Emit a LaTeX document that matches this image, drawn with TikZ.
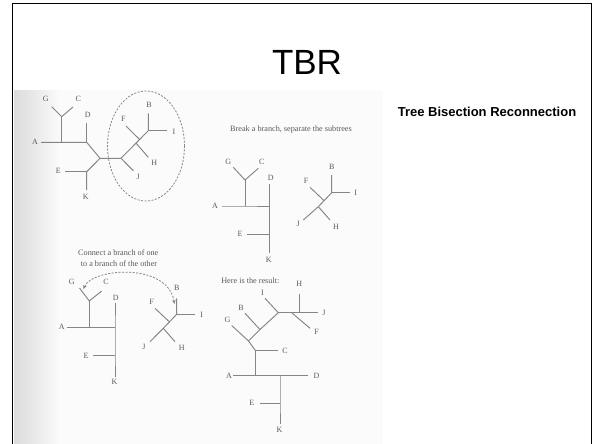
\documentclass[tikz,border=0pt]{standalone}
\usepackage{fontspec}
\setmainfont{Liberation Serif}
\newfontfamily\sansf{Liberation Sans}
\usetikzlibrary{arrows.meta}
\definecolor{branch}{HTML}{858585}
\definecolor{lab}{HTML}{5A5A5A}
\tikzset{
  br/.style={draw=branch, line width=0.95pt},
  lbl/.style={text=lab, font=\fontsize{8}{9}\selectfont, inner sep=0pt},
  capt/.style={text=lab, font=\fontsize{8.2}{9}\selectfont, inner sep=0pt},
  dsh/.style={draw=branch, line width=0.8pt, dash pattern=on 2pt off 1.5pt},
}
\begin{document}
\begin{tikzpicture}[x=1pt,y=-1pt]
\useasboundingbox (0,0) rectangle (602,444);
\fill[white] (0,0) rectangle (602,444);
% scanned area
\fill[gray!3] (14,90) rectangle (383,444);
\shade[left color=gray!28, right color=gray!3] (14,90) rectangle (60,444);
% slide frame
\draw[line width=1.5pt] (12.5,444) -- (12.5,3.5) -- (591.5,3.5) -- (591.5,444);
% titles
\node[font=\sansf\fontsize{35}{40}\selectfont, inner sep=0pt] (title) at (307,62) {TBR};
\node[font=\sansf\bfseries\fontsize{13}{15}\selectfont, inner sep=0pt] (sub) at (487,112) {Tree Bisection Reconnection};

% ---------- Tree 1 ----------
\coordinate (t1a) at (41,142.3);
\coordinate (t1n1) at (61.7,142.3);
\coordinate (t1gc) at (61.7,116.7);
\coordinate (t1g) at (51.7,106.7);
\coordinate (t1c) at (73,107);
\coordinate (t1n2) at (86.7,142.3);
\coordinate (t1d) at (86.7,123.3);
\coordinate (t1n3) at (100,158.3);
\coordinate (t1n4) at (86.7,171.7);
\coordinate (t1e) at (65,171.7);
\coordinate (t1k) at (86.7,190);
\coordinate (t1n5) at (121,158.3);
\coordinate (t1j) at (133.3,170.7);
\coordinate (t1n6) at (148.3,130.7);
\coordinate (t1b) at (148.3,113.3);
\coordinate (t1i) at (166.7,130.7);
\coordinate (t1h0) at (136,143.1);
\coordinate (t1h) at (148.3,157.3);
\coordinate (t1f0) at (139.6,139.5);
\coordinate (t1f) at (126,126);
\draw[br] (t1a) -- (t1n1) -- (t1n2) -- (t1n3) -- (t1n5) -- (t1n6) -- (t1b);
\draw[br] (t1n1) -- (t1gc);
\draw[br] (t1g) -- (t1gc) -- (t1c);
\draw[br] (t1n2) -- (t1d);
\draw[br] (t1n3) -- (t1n4) -- (t1k);
\draw[br] (t1n4) -- (t1e);
\draw[br] (t1j) -- (t1n5);
\draw[br] (t1n6) -- (t1i);
\draw[br] (t1h0) -- (t1h);
\draw[br] (t1f0) -- (t1f);
\draw[dsh] (146,146) ellipse [x radius=38.5pt, y radius=55pt];
\node[lbl] (l1A) at (35,142.3) {A};
\node[lbl] (l1G) at (45.7,99.3) {G};
\node[lbl] (l1C) at (78.3,99.3) {C};
\node[lbl] (l1D) at (87.7,115) {D};
\node[lbl] (l1E) at (58.3,170.5) {E};
\node[lbl] (l1K) at (85.7,197.3) {K};
\node[lbl] (l1J) at (138.3,177.3) {J};
\node[lbl] (l1H) at (154.3,162.7) {H};
\node[lbl] (l1F) at (123.3,119.3) {F};
\node[lbl] (l1B) at (149,104.5) {B};
\node[lbl] (l1I) at (174,131.5) {I};

% ---------- Tree 2 ----------
\node[capt] (cap2) at (291,129.3) {Break a branch, separate the subtrees};
\coordinate (t2a) at (221.7,206);
\coordinate (t2n1) at (245,206);
\coordinate (t2gc) at (245,180);
\coordinate (t2g) at (233.3,167.3);
\coordinate (t2c) at (258.3,168.3);
\coordinate (t2n2) at (269.5,206);
\coordinate (t2d) at (269.5,184);
\coordinate (t2n3) at (269.5,234);
\coordinate (t2e) at (246.7,234);
\coordinate (t2k) at (269.5,253.3);
\draw[br] (t2a) -- (t2n1) -- (t2n2);
\draw[br] (t2n1) -- (t2gc);
\draw[br] (t2g) -- (t2gc) -- (t2c);
\draw[br] (t2d) -- (t2n2) -- (t2n3) -- (t2k);
\draw[br] (t2n3) -- (t2e);
\node[lbl] (l2A) at (215,205.5) {A};
\node[lbl] (l2G) at (228.3,161.7) {G};
\node[lbl] (l2C) at (261.7,161.7) {C};
\node[lbl] (l2D) at (270.7,178) {D};
\node[lbl] (l2E) at (240,233.5) {E};
\node[lbl] (l2K) at (268.8,260) {K};
\coordinate (t2n4) at (318.3,206.7);
\coordinate (t2j) at (303.3,220);
\coordinate (t2h) at (330,220);
\coordinate (t2n5) at (331.7,192.7);
\coordinate (t2b) at (331.7,175);
\coordinate (t2i) at (350,192.7);
\coordinate (t2f0) at (324,200.6);
\coordinate (t2f) at (310,187.3);
\draw[br] (t2j) -- (t2n4) -- (t2n5) -- (t2b);
\draw[br] (t2n4) -- (t2h);
\draw[br] (t2n5) -- (t2i);
\draw[br] (t2f0) -- (t2f);
\node[lbl] (l2F) at (306,180.7) {F};
\node[lbl] (l2J) at (298.3,223.5) {J};
\node[lbl] (l2H) at (336,226.5) {H};
\node[lbl] (l2B) at (331.7,166.7) {B};
\node[lbl] (l2I) at (355.7,193) {I};

% ---------- Tree 3 ----------
\node[capt] (cap3a) at (118.3,252.7) {Connect a branch of one};
\node[capt] (cap3b) at (119,263.3) {to a branch of the other};
\coordinate (t3a) at (66.7,327.3);
\coordinate (t3n1) at (89.3,327.3);
\coordinate (t3gc) at (89.3,301);
\coordinate (t3g) at (79.5,288);
\coordinate (t3c) at (101.7,291);
\coordinate (t3n2) at (115,327.3);
\coordinate (t3d) at (115,303.3);
\coordinate (t3n3) at (115,355.7);
\coordinate (t3e) at (93.3,355.7);
\coordinate (t3k) at (115,376.7);
\draw[br] (t3a) -- (t3n1) -- (t3n2);
\draw[br] (t3n1) -- (t3gc);
\draw[br] (t3g) -- (t3gc) -- (t3c);
\draw[br] (t3d) -- (t3n2) -- (t3n3) -- (t3k);
\draw[br] (t3n3) -- (t3e);
\node[lbl] (l3A) at (61.7,326.7) {A};
\node[lbl] (l3G) at (71.7,281.7) {G};
\node[lbl] (l3C) at (106,281.7) {C};
\node[lbl] (l3D) at (115.7,298.3) {D};
\node[lbl] (l3E) at (86,355.5) {E};
\node[lbl] (l3K) at (114.5,381.7) {K};
\coordinate (t3n4) at (163.3,328.3);
\coordinate (t3j) at (150,341.7);
\coordinate (t3h) at (175,341.7);
\coordinate (t3n5) at (176.7,314.3);
\coordinate (t3b) at (176.7,298.3);
\coordinate (t3i) at (195,314.3);
\coordinate (t3f0) at (169.5,322);
\coordinate (t3f) at (155,308.3);
\draw[br] (t3j) -- (t3n4) -- (t3n5) -- (t3b);
\draw[br] (t3n4) -- (t3h);
\draw[br] (t3n5) -- (t3i);
\draw[br] (t3f0) -- (t3f);
\node[lbl] (l3B) at (176.7,287.5) {B};
\node[lbl] (l3I) at (201.7,315) {I};
\node[lbl] (l3F) at (151.7,301.7) {F};
\node[lbl] (l3J) at (144,346.7) {J};
\node[lbl] (l3H) at (181.7,348.3) {H};
\coordinate (arrL) at (83.5,289);
\coordinate (arrR) at (174.5,304);
\draw[dsh, {Stealth[length=4pt,width=3.5pt]}-{Stealth[length=4pt,width=3.5pt]}]
  (arrL) .. controls (92,268) and (168,262) .. (arrR);

% ---------- Tree 4 ----------
\node[capt] (cap4) at (250.3,281) {Here is the result:};
\coordinate (t4h) at (299.3,294);
\coordinate (t4n1) at (299.3,312.7);
\coordinate (t4n0) at (278.3,312.7);
\coordinate (t4j) at (318.3,312.7);
\coordinate (t4f0) at (291.7,312.7);
\coordinate (t4f) at (310,328.3);
\coordinate (t4i) at (265,298.3);
\coordinate (t4n2) at (260,329.5);
\coordinate (t4b) at (245,313.3);
\coordinate (t4n3) at (248.5,341);
\coordinate (t4g) at (231.7,325.5);
\coordinate (t4n4) at (255.5,350.7);
\coordinate (t4c) at (278.3,350.7);
\coordinate (t4n5) at (255.5,375.7);
\coordinate (t4a) at (233.3,375.7);
\coordinate (t4n6) at (280,375.7);
\coordinate (t4d) at (308.3,375.7);
\coordinate (t4n7) at (280,403.5);
\coordinate (t4e) at (260,403.5);
\coordinate (t4k) at (280,424);
\draw[br] (t4h) -- (t4n1);
\draw[br] (t4n0) -- (t4j);
\draw[br] (t4f0) -- (t4f);
\draw[br] (t4i) -- (t4n0) -- (t4n2) -- (t4n3) -- (t4n4) -- (t4n5);
\draw[br] (t4n2) -- (t4b);
\draw[br] (t4n3) -- (t4g);
\draw[br] (t4n4) -- (t4c);
\draw[br] (t4a) -- (t4d);
\draw[br] (t4n6) -- (t4n7) -- (t4k);
\draw[br] (t4n7) -- (t4e);
\node[lbl] (l4H) at (299.3,284) {H};
\node[lbl] (l4J) at (324,312.5) {J};
\node[lbl] (l4F) at (316.5,331.5) {F};
\node[lbl] (l4I) at (262.5,293) {I};
\node[lbl] (l4B) at (241,307.8) {B};
\node[lbl] (l4G) at (227.5,319.5) {G};
\node[lbl] (l4C) at (285,351) {C};
\node[lbl] (l4A) at (229,375.5) {A};
\node[lbl] (l4D) at (316.5,376) {D};
\node[lbl] (l4E) at (251.7,403) {E};
\node[lbl] (l4K) at (279.5,430) {K};
\end{tikzpicture}
\end{document}
